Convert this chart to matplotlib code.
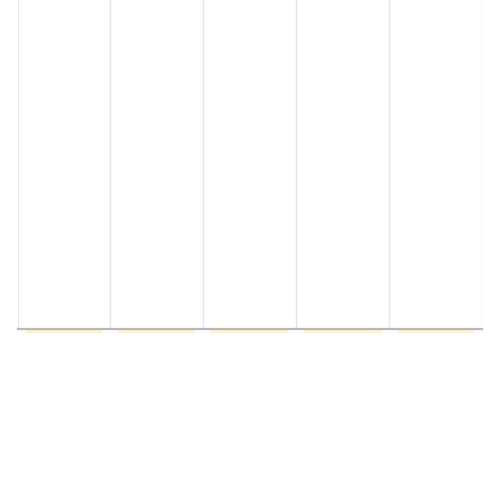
import matplotlib
matplotlib.use("Agg")
import matplotlib.pyplot as plt
import numpy as np

categories = ["A", "B", "C", "D", "E"]
values = [-1.1, -1.1, -1.1, -1.1, -1.1]

fig = plt.figure(figsize=(5, 5), dpi=100)
ax = fig.add_axes([0.035, 1 - 329 / 500, 0.928, 329 / 500])

x = np.arange(len(categories))
bars = ax.bar(x, values, width=0.83, color="#fdf1d2", clip_on=False, zorder=1)

ax.set_xlim(-0.5, len(categories) - 0.5)
ax.set_ylim(0, 100)

# category boundary gridlines
for b in np.arange(-0.5, len(categories), 1.0):
    ax.axvline(b, color="#e6e6e6", linewidth=1.0, zorder=0)

for s in ["top", "left", "right"]:
    ax.spines[s].set_visible(False)
ax.spines["bottom"].set_color("#b8b8b8")
ax.spines["bottom"].set_linewidth(1.6)
ax.spines["bottom"].set_capstyle("projecting")
ax.spines["bottom"].set_zorder(3)

ax.set_xticks([])
ax.set_yticks([])

fig.savefig("out.png", dpi=100)
